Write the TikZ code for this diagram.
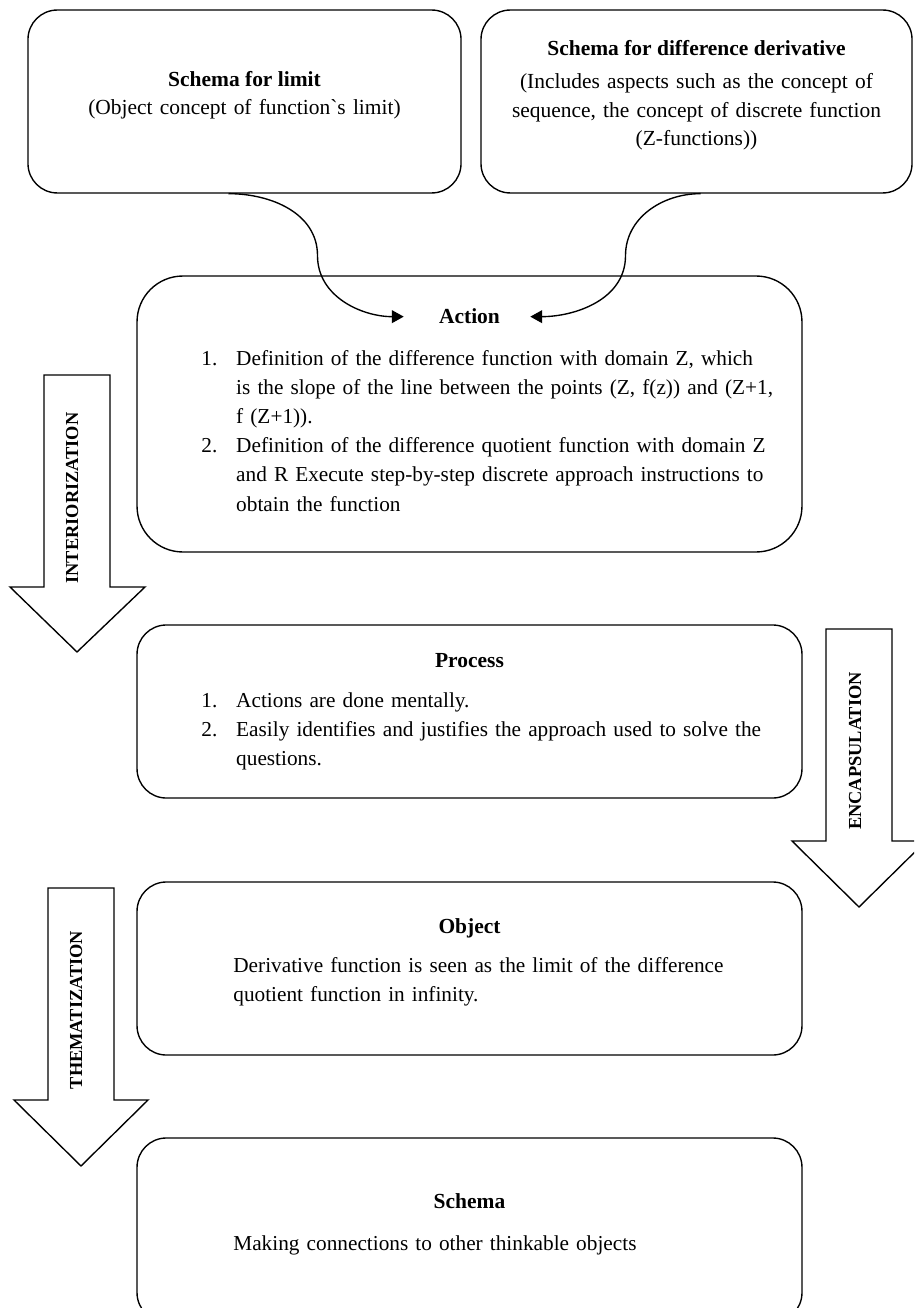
\documentclass[tikz,border=0pt]{standalone}
\usepackage{fontspec}
\setmainfont{Liberation Serif}
\usepackage{enumitem}
\usetikzlibrary{arrows.meta,calc,positioning}

\begin{document}
\begin{tikzpicture}[x=0.545pt,y=-0.545pt,
  box/.style={draw,line width=0.75pt,rounded corners=16pt,inner sep=0pt},
  title/.style={font=\fontsize{11.7}{15.5}\selectfont\bfseries,inner sep=0pt,anchor=base},
  note/.style={font=\fontsize{11.7}{15.5}\selectfont,inner sep=0pt,anchor=base,text width=240pt,align=center},
  body/.style={font=\fontsize{11.6}{15.9}\selectfont,inner sep=0pt,anchor=base west,text width=330pt,align=left},
  flow/.style={font=\fontsize{10}{12}\selectfont\bfseries,inner sep=0pt,anchor=base,rotate=90},
  bigarrow/.style={draw,line width=0.75pt},
  link/.style={-{Triangle[length=6.5pt,width=7pt]},line width=0.75pt}]
\useasboundingbox (0,0) rectangle (914,1308);
\clip (0,0) rectangle (914,1308);

% the two schemas on top
\node[box,minimum width=236pt,minimum height=99.7pt] (limit) at (244.5,101.5) {};
\node[title] (limitt) at (244.5,87) {Schema for limit};
\node[note] (limitb) at (244.5,115) {(Object concept of function\textasciigrave s limit)};
\node[box,minimum width=234.9pt,minimum height=99.7pt] (diffderiv) at (696.5,101.5) {};
\node[title] (diffderivt) at (696.5,56) {Schema for difference derivative};
\node[note] (diffderivb) at (696.5,89) {(Includes aspects such as the concept of\\
  sequence, the concept of discrete function\\ (Z-functions))};

% action
\node[box,rounded corners=25pt,minimum width=362.4pt,minimum height=150.4pt] (action) at (469.5,414) {};
\node[title] (actiont) at (469.5,324) {Action};
\node[body] (actionb) at (201,336) {%
  \begin{enumerate}[leftmargin=19pt,labelwidth=19pt,labelsep=0pt,align=left,nosep]
  \item Definition of the difference function with domain Z, which\newline
    is the slope of the line between the points (Z, f(z)) and (Z+1,\newline
    f (Z+1)).
  \item Definition of the difference quotient function with domain Z\newline
    and R Execute step-by-step discrete approach instructions to\newline
    obtain the function
  \end{enumerate}};

% process
\node[box,minimum width=362.4pt,minimum height=94.3pt] (process) at (469.5,711.5) {};
\node[title] (processt) at (469.5,667) {Process};
\node[body] (processb) at (201,678) {%
  \begin{enumerate}[leftmargin=19pt,labelwidth=19pt,labelsep=0pt,align=left,nosep]
  \item Actions are done mentally.
  \item Easily identifies and justifies the approach used to solve the\newline
    questions.
  \end{enumerate}};

% object
\node[box,minimum width=362.4pt,minimum height=94.3pt] (object) at (469.5,968.5) {};
\node[title] (objectt) at (469.5,933) {Object};
\node[body] (objectb) at (233,972) {Derivative function is seen as the limit of the difference\\
  quotient function in infinity.};

% schema
\node[box,minimum width=362.4pt,minimum height=100.3pt] (schema) at (469.5,1230) {};
\node[title] (schemat) at (469.5,1208) {Schema};
\node[body] (schemab) at (233,1250) {Making connections to other thinkable objects};

% links into the action
\draw[link] ($(limit.south)+(-16,0)$) to[out=0,in=90] ++(89,62)
  to[out=-90,in=180] ($(actiont.west)+(-35,0)$);
\draw[link] ($(diffderiv.south)+(4,0)$) to[out=180,in=90] ++(-75,62)
  to[out=-90,in=0] ($(actiont.east)+(30,0)$);

% big arrows
\draw[bigarrow] (44,375) -- (110,375) -- (110,587) -- (145,587) -- (77,652) -- (10,587) -- (44,587) -- cycle;
\node[flow] (interio) at (78,498) {INTERIORIZATION};
\draw[bigarrow] (826,629) -- (892,629) -- (892,841) -- (926,841) -- (859,907) -- (792,841) -- (826,841) -- cycle;
\node[flow] (encaps) at (861,751) {ENCAPSULATION};
\draw[bigarrow] (48,888) -- (114,888) -- (114,1100) -- (148,1100) -- (81,1166) -- (14,1100) -- (48,1100) -- cycle;
\node[flow] (themat) at (82,1010) {THEMATIZATION};
\end{tikzpicture}
\end{document}
